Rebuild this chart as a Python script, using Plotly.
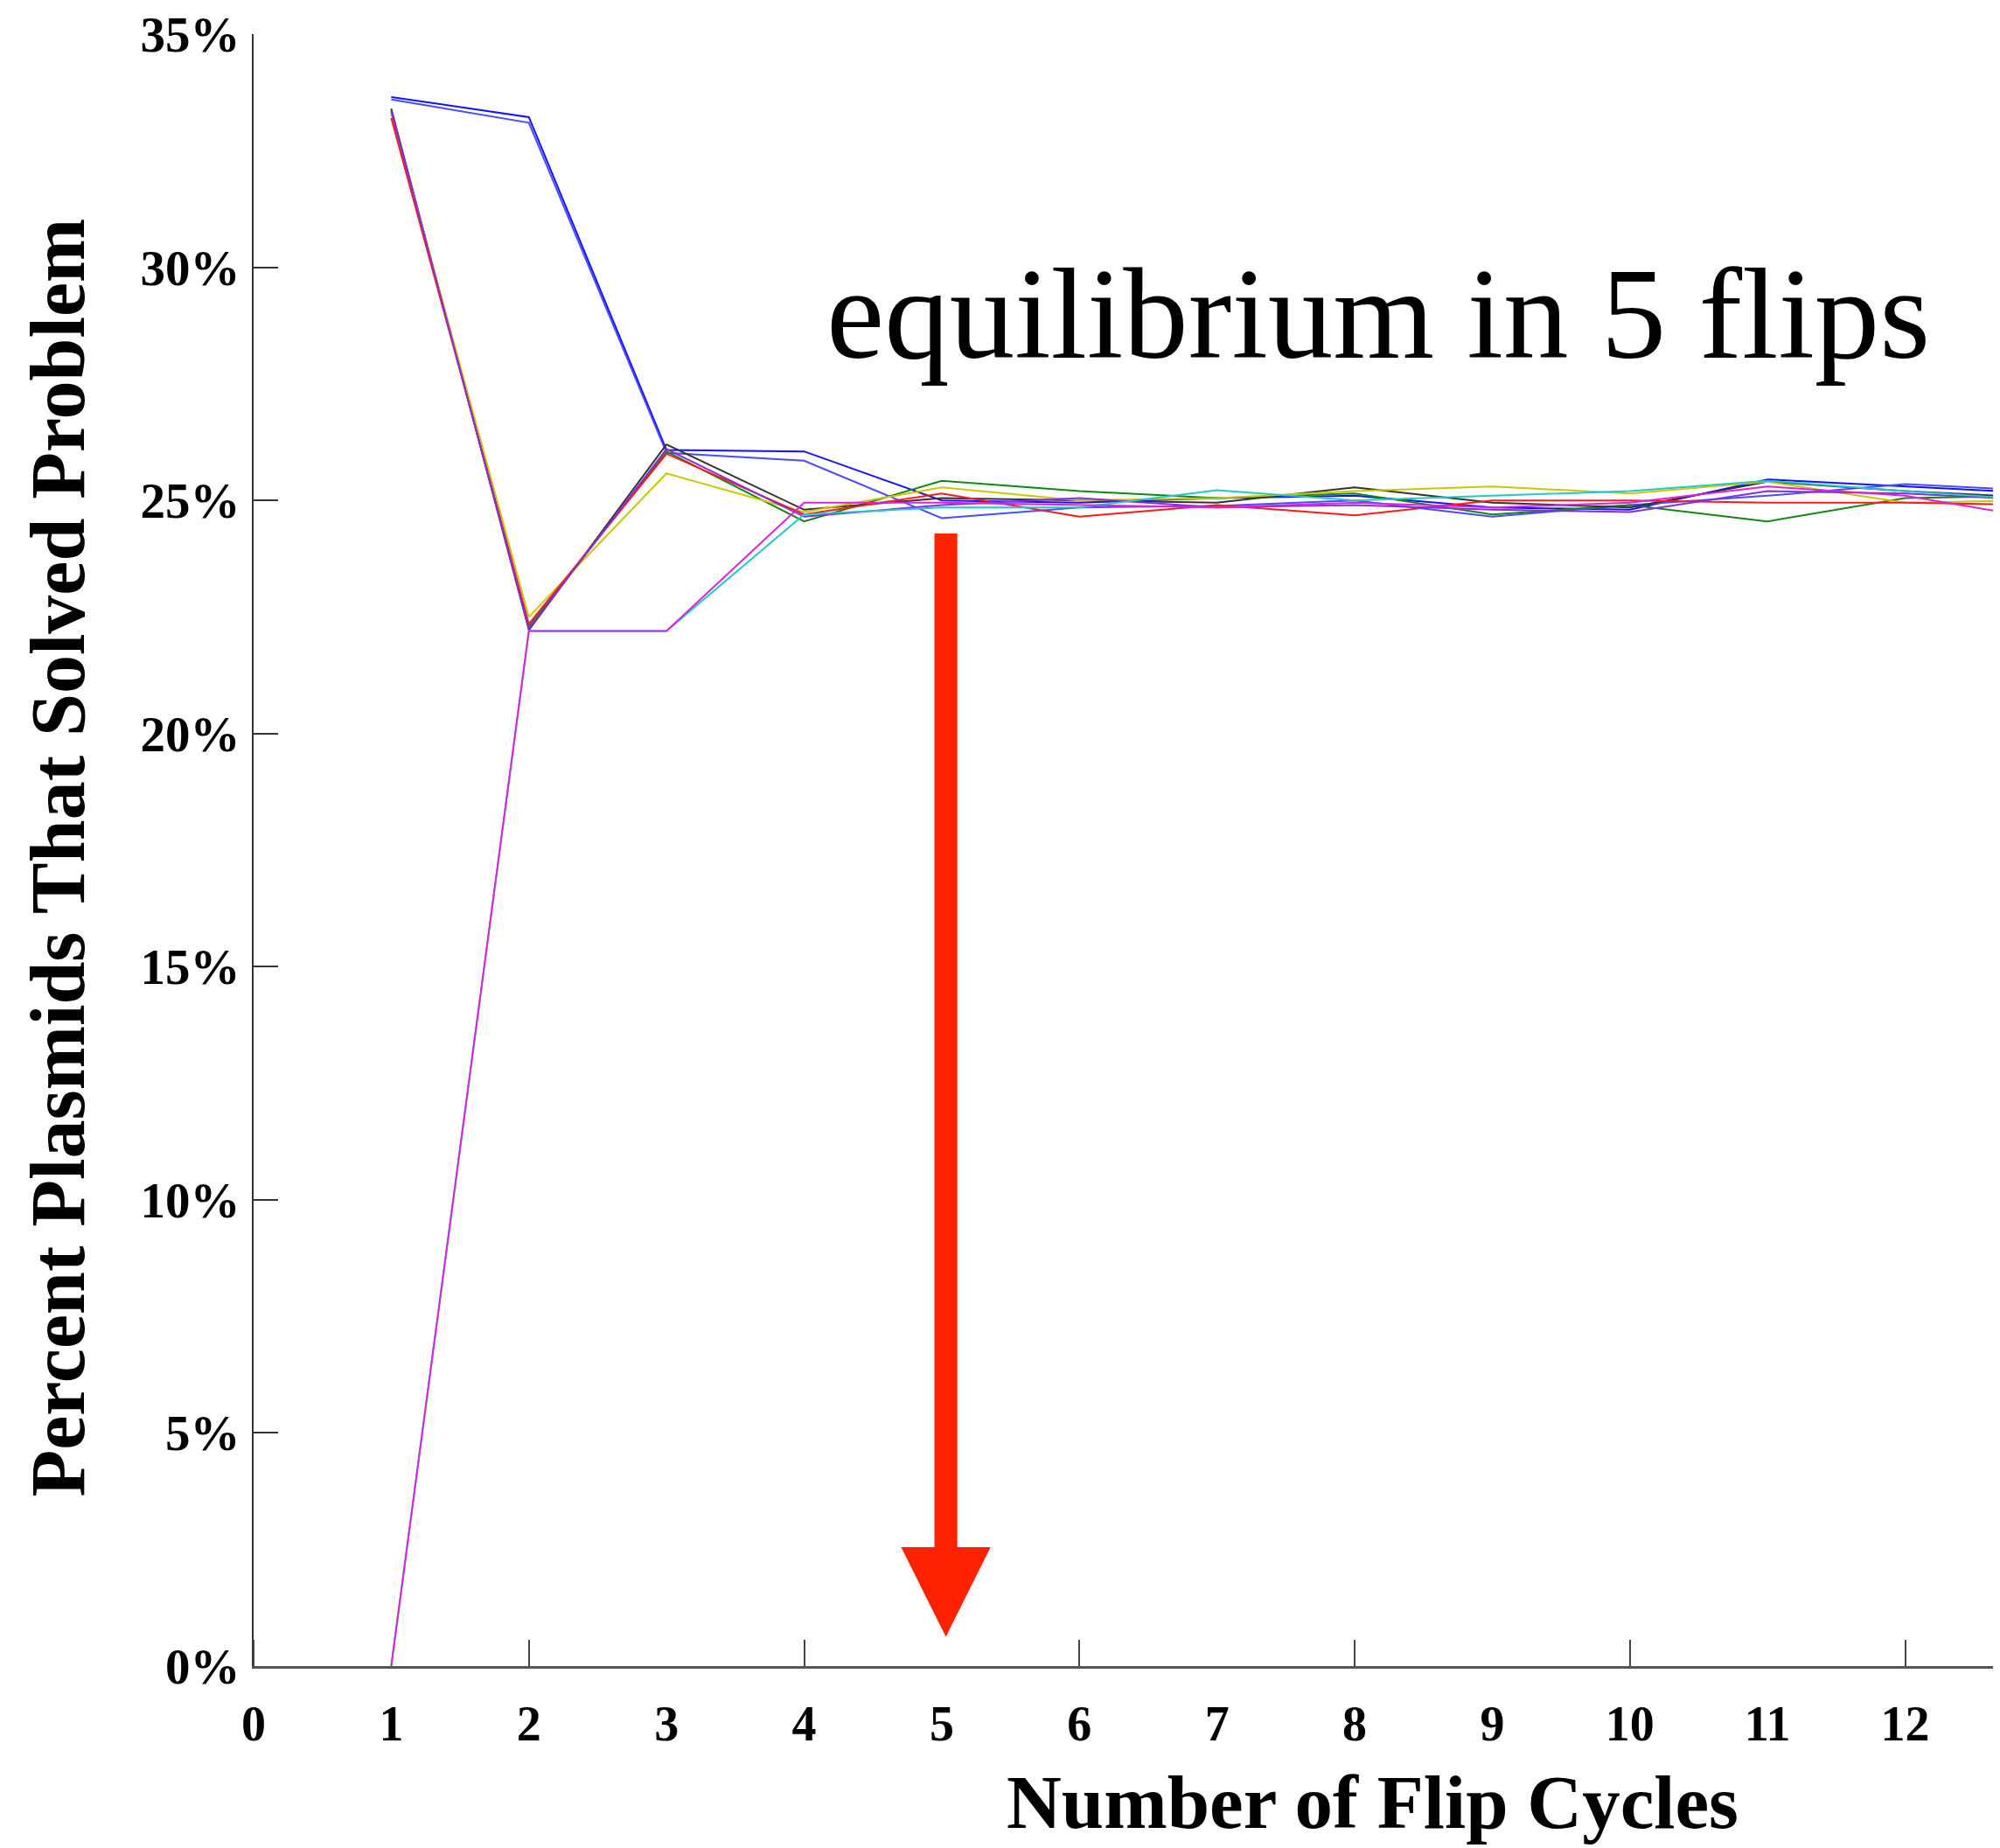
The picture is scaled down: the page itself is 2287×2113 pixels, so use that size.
import plotly.graph_objects as go

# ---- data ----
flip_cycles = [1, 2, 3, 4, 5, 6, 7, 8, 9, 10, 11, 12, 13]

run_blue_a  = [33.65, 33.22, 26.08, 26.05, 25.00, 24.95, 25.05, 25.10, 24.85, 24.80, 25.45, 25.30, 25.15]
run_blue_b  = [33.60, 33.10, 26.02, 25.85, 24.62, 24.85, 24.88, 25.00, 24.65, 24.90, 25.10, 25.35, 25.20]
run_green   = [33.35, 22.30, 26.05, 24.55, 25.42, 25.20, 25.05, 25.15, 24.70, 24.90, 24.55, 25.05, 25.10]
run_black   = [33.40, 22.22, 26.20, 24.80, 25.05, 25.00, 24.95, 25.28, 24.95, 24.85, 25.40, 25.20, 25.05]
run_yellow  = [33.30, 22.50, 25.58, 24.75, 25.28, 25.00, 25.05, 25.20, 25.30, 25.15, 25.40, 24.95, 25.00]
run_red     = [33.20, 22.35, 26.00, 24.70, 25.15, 24.65, 24.90, 24.68, 25.00, 25.00, 24.95, 24.95, 24.90]
run_purple  = [33.35, 22.25, 26.10, 24.65, 24.90, 25.05, 24.85, 24.90, 24.80, 24.75, 25.20, 25.15, 25.00]
run_cyan    = [0.00, 22.20, 22.20, 24.70, 24.85, 24.85, 25.22, 25.00, 25.10, 25.20, 25.42, 25.20, 25.00]
run_magenta = [0.00, 22.20, 22.20, 24.95, 24.95, 24.90, 24.85, 24.95, 24.85, 24.95, 25.30, 25.10, 24.60]

series = [
    ("run 1", run_blue_a, "#1010ff"),
    ("run 2", run_blue_b, "#4a4aff"),
    ("run 3", run_green, "#118811"),
    ("run 4", run_black, "#333333"),
    ("run 5", run_yellow, "#c8c800"),
    ("run 6", run_red, "#ff1a1a"),
    ("run 7", run_purple, "#8a2be2"),
    ("run 8", run_cyan, "#22c8c8"),
    ("run 9", run_magenta, "#dd22dd"),
]

x_tick_vals = list(range(0, 13))
x_tick_text = [str(v) for v in x_tick_vals]
y_tick_vals = [0, 5, 10, 15, 20, 25, 30, 35]
y_tick_text = ["0%", "5%", "10%", "15%", "20%", "25%", "30%", "35%"]

note_text = "equilibrium in 5 flips"
note_x, note_y = 8.17, 29.0
arrow_x, arrow_top, arrow_head_base, arrow_tip = 5.03, 24.29, 2.55, 0.63
arrow_shaft_half, arrow_head_half = 0.083, 0.325
arrow_color = "#ff2200"

serif = "Liberation Serif, Times New Roman, serif"

fig = go.Figure()
for name, vals, col in series:
    fig.add_trace(go.Scatter(x=flip_cycles, y=vals, mode="lines", name=name,
                             line=dict(color=col, width=2), showlegend=False))

# red arrow
fig.add_shape(type="rect", xref="x", yref="y",
              x0=arrow_x - arrow_shaft_half, x1=arrow_x + arrow_shaft_half,
              y0=arrow_head_base - 0.05, y1=arrow_top,
              fillcolor=arrow_color, line=dict(width=0))
fig.add_shape(type="path", xref="x", yref="y",
              path=f"M {arrow_x - arrow_head_half},{arrow_head_base} L {arrow_x + arrow_head_half},{arrow_head_base} L {arrow_x},{arrow_tip} Z",
              fillcolor=arrow_color, line=dict(width=0))

fig.add_annotation(x=note_x, y=note_y, xref="x", yref="y", text=note_text,
                   showarrow=False, xanchor="center", yanchor="middle",
                   font=dict(family=serif, size=149, color="black"))

fig.add_annotation(x=0.6384, y=-0.0834, xref="paper", yref="paper",
                   text="Number of Flip Cycles", showarrow=False,
                   xanchor="center", yanchor="middle",
                   font=dict(family=serif, size=87, color="black", weight="bold"))
fig.add_annotation(x=-0.1117, y=0.4955, xref="paper", yref="paper",
                   text="Percent Plasmids That Solved Problem", showarrow=False,
                   textangle=-90, xanchor="center", yanchor="middle",
                   font=dict(family=serif, size=88, color="black", weight="bold"))

fig.update_layout(
    width=2287, height=2113,
    margin=dict(l=282, r=0, t=24, b=216, pad=0),
    paper_bgcolor="white", plot_bgcolor="white",
    xaxis=dict(range=[0, 12.74], tickmode="array", tickvals=x_tick_vals, ticktext=x_tick_text,
               ticks="", showgrid=False, zeroline=False,
               showline=True, linecolor="#555555", linewidth=2.5,
               tickfont=dict(family=serif, size=56, color="black", weight="bold"),
               ticklabelstandoff=15, ticklabeloverflow="allow",
               minor=dict(ticks="inside", tick0=0, dtick=2, ticklen=30, tickwidth=2, tickcolor="#444444")),
    yaxis=dict(range=[0, 35], tickmode="array", tickvals=y_tick_vals, ticktext=y_tick_text,
               ticks="inside", ticklen=28, tickwidth=2, tickcolor="#333333",
               showgrid=False, zeroline=False,
               showline=True, linecolor="#333333", linewidth=2,
               tickfont=dict(family=serif, size=57, color="black", weight="bold"),
               ticklabelstandoff=2, ticklabeloverflow="allow"),
)

fig.write_html("out.html")
